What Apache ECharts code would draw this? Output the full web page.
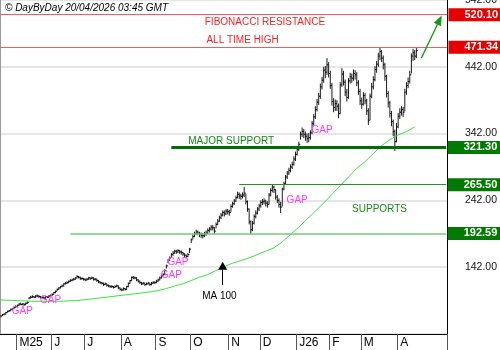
<!DOCTYPE html>
<html>
<head>
<meta charset="utf-8">
<script src="https://cdn.jsdelivr.net/npm/echarts@6/dist/echarts.min.js"></script>
<style>
  html, body { margin: 0; padding: 0; background: #fff; }
  #chart { width: 500px; height: 350px; }
</style>
</head>
<body>
<div id="chart"></div>
<script>
// ---- trading calendar ----
const firstSession = '2025-04-16';
const sessionCount = 270;            // includes empty sessions ahead of the last bar
const marketHolidays = ['2025-04-18', '2025-05-26', '2025-06-19', '2025-07-04', '2025-09-01',
  '2025-11-27', '2025-12-25', '2026-01-01', '2026-01-19', '2026-02-16', '2026-04-03'];
const monthLabels = ['M25', 'J', 'J', 'A', 'S', 'O', 'N', 'D', 'J26', 'F', 'M', 'A'];

// ---- daily price bars ----
const closes = [
  69, 71, 72, 74, 76, 77, 79, 80, 82, 83,
  85, 87, 86, 87, 86, 88, 89, 96, 97, 98,
  97, 99, 99, 98, 97, 97, 96, 98, 97, 99,
  100, 101, 104, 106, 109, 111, 113, 114, 117, 118,
  119, 121, 122, 123, 124, 126, 128, 127, 125, 125,
  124, 123, 124, 126, 125, 126, 124, 124, 122, 120,
  119, 118, 116, 117, 115, 114, 113, 113, 112, 113,
  114, 111, 109, 108, 110, 109, 113, 118, 122, 127,
  126, 126, 123, 121, 119, 117, 118, 116, 117, 118,
  116, 118, 119, 119, 121, 123, 126, 129, 131, 137,
  144, 152, 156, 161, 163, 166, 165, 167, 165, 164,
  162, 160, 158, 161, 169, 183, 188, 192, 195, 193,
  191, 190, 189, 192, 193, 197, 199, 202, 201, 196,
  206, 211, 216, 220, 224, 222, 226, 225, 224, 233,
  237, 241, 246, 251, 249, 248, 250, 253, 240, 229,
  210, 198, 208, 218, 223, 229, 234, 239, 240, 241,
  238, 236, 250, 257, 262, 258, 247, 242, 236, 232,
  259, 267, 277, 283, 287, 292, 296, 304, 311, 318,
  326, 341, 345, 341, 338, 335, 336, 343, 357, 367,
  378, 389, 398, 412, 422, 437, 434, 445, 432, 414,
  390, 381, 387, 383, 372, 415, 431, 419, 404, 396,
  421, 427, 425, 432, 430, 418, 405, 391, 386, 399,
  391, 376, 362, 398, 412, 423, 438, 446, 458, 465,
  455, 445, 428, 402, 388, 372, 360, 345, 330, 352,
  368, 374, 378, 374, 404, 414, 420, 430, 458, 463,
  458, 466
];
const lows = [
  67, 69, 70, 71, 74, 75, 76, 78, 79, 81,
  82, 84, 85, 85, 84, 85, 87, 94, 95, 96,
  96, 96, 97, 96, 95, 95, 94, 95, 96, 96,
  98, 99, 101, 103, 106, 108, 110, 112, 113, 116,
  117, 118, 120, 121, 122, 123, 125, 125, 123, 123,
  122, 121, 122, 123, 123, 124, 122, 122, 120, 118,
  117, 116, 114, 115, 113, 112, 111, 111, 110, 111,
  112, 109, 107, 106, 107, 107, 108, 112, 117, 121,
  124, 124, 121, 119, 117, 115, 116, 114, 115, 116,
  114, 115, 117, 117, 118, 120, 122, 125, 128, 130,
  140, 148, 152, 157, 159, 162, 162, 163, 162, 161,
  159, 157, 155, 157, 163, 178, 184, 187, 190, 190,
  187, 186, 185, 187, 189, 192, 194, 197, 197, 192,
  200, 205, 210, 214, 218, 218, 220, 221, 219, 225,
  231, 235, 240, 245, 244, 243, 245, 247, 236, 225,
  206, 191, 196, 206, 215, 221, 226, 231, 235, 236,
  233, 231, 236, 248, 254, 253, 243, 238, 231, 223,
  233, 257, 265, 274, 280, 284, 289, 294, 301, 309,
  316, 333, 337, 335, 331, 328, 329, 333, 341, 354,
  364, 375, 385, 394, 408, 418, 425, 430, 426, 409,
  384, 374, 376, 376, 365, 371, 412, 414, 398, 390,
  394, 417, 418, 421, 423, 413, 400, 385, 379, 384,
  386, 370, 355, 362, 395, 408, 420, 433, 442, 452,
  449, 438, 421, 396, 381, 366, 353, 338, 316, 329,
  350, 364, 369, 367, 375, 400, 410, 417, 432, 451,
  452, 455
];
const highs = [
  70, 72, 73, 75, 77, 78, 80, 81, 83, 85,
  86, 88, 89, 88, 88, 89, 91, 97, 99, 100,
  99, 100, 101, 100, 99, 98, 98, 99, 99, 100,
  101, 103, 105, 107, 110, 112, 114, 116, 118, 120,
  121, 122, 124, 125, 126, 127, 130, 129, 128, 127,
  126, 125, 126, 127, 127, 128, 127, 126, 125, 123,
  121, 120, 119, 119, 118, 116, 115, 115, 114, 115,
  116, 115, 112, 110, 112, 111, 114, 119, 123, 128,
  129, 128, 127, 124, 122, 120, 120, 119, 119, 120,
  119, 120, 121, 121, 123, 125, 128, 131, 133, 139,
  146, 154, 158, 163, 166, 168, 168, 169, 168, 167,
  165, 163, 161, 163, 171, 185, 191, 195, 198, 197,
  195, 194, 193, 195, 197, 200, 202, 205, 205, 202,
  209, 214, 219, 223, 227, 227, 229, 229, 228, 236,
  240, 244, 249, 255, 254, 252, 254, 262, 252, 242,
  230, 212, 211, 221, 227, 232, 237, 242, 244, 245,
  243, 241, 253, 260, 266, 264, 259, 250, 245, 240,
  261, 270, 280, 286, 291, 296, 300, 308, 315, 322,
  330, 345, 351, 349, 345, 342, 343, 347, 361, 371,
  383, 394, 403, 417, 427, 442, 443, 455, 449, 436,
  418, 395, 393, 392, 387, 419, 440, 436, 423, 409,
  425, 433, 432, 438, 437, 434, 422, 409, 396, 404,
  403, 394, 380, 402, 418, 428, 443, 451, 463, 471,
  467, 459, 448, 430, 406, 391, 376, 363, 348, 358,
  373, 380, 383, 382, 409, 419, 426, 436, 462, 469,
  467, 470
];

// 100-session moving average, one reading every 5 sessions
const maStep = 5;
const ma100 = [
  93, 92.5, 92, 91.5, 91, 91, 91, 91, 91.5, 92,
  93, 94.5, 96, 97.5, 99, 100.5, 102, 103.5, 105, 107,
  110, 114, 117, 122, 127, 131, 137, 143, 148, 152,
  156, 161, 166, 171, 180, 191, 202, 214, 226, 238,
  251, 264, 277, 290, 300, 312, 324, 333, 340, 345,
  352
];

// ---- key levels ----
const resistanceLevels = [520.10, 471.34];
const supportLevels = [321.30, 265.50, 192.59];
const supportStarts = ['2025-09-15', '2025-11-11', '2025-06-17'];

// ---- notes on the chart ----
const gapNotes = [
  ['2025-05-06', 75], ['2025-05-30', 92], ['2025-09-15', 129],
  ['2025-09-19', 148], ['2026-01-02', 242], ['2026-01-26', 346]
];
const textNotes = [
  { text: 'FIBONACCI RESISTANCE', at: ['2025-10-13', 508], color: '#ff2020', size: 10 },
  { text: 'ALL TIME HIGH', at: ['2025-10-14', 480.5], color: '#ff2020', size: 10 },
  { text: 'MAJOR SUPPORT', at: ['2025-09-29', 329.5], color: '#158a15', size: 10 },
  { text: 'SUPPORTS', at: ['2026-02-20', 228.5], color: '#158a15', size: 10 }
];
const maNote = { text: 'MA 100', at: ['2025-10-24', 98], arrowFrom: ['2025-10-28', 115.5], arrowTo: ['2025-10-28', 144] };
const targetArrow = { from: ['2026-04-22', 455], to: ['2026-05-07', 512] };

// ---- build the session list ----
function buildSessions(start, count, holidays) {
  const out = [];
  const d = new Date(start + 'T00:00:00Z');
  while (out.length < count) {
    const dow = d.getUTCDay();
    const iso = d.toISOString().slice(0, 10);
    if (dow !== 0 && dow !== 6 && holidays.indexOf(iso) < 0) out.push(iso);
    d.setUTCDate(d.getUTCDate() + 1);
  }
  return out;
}
const sessions = buildSessions(firstSession, sessionCount, marketHolidays);
const lastSession = sessions[sessions.length - 1];

// first session of each labelled month
const monthStarts = [];
for (let i = 1; i < sessions.length && monthStarts.length < monthLabels.length; i++) {
  if (sessions[i].slice(0, 7) !== sessions[i - 1].slice(0, 7)) monthStarts.push(i);
}
const isMonthStart = (idx) => monthStarts.indexOf(idx) >= 0;

const barData = closes.map((c, i) => [i, lows[i], highs[i], c]);
const maData = sessions.map((_, i) => (i % maStep === 0 && i / maStep < ma100.length) ? ma100[i / maStep] : null);

function renderBar(params, api) {
  const i = api.value(0);
  const top = api.coord([i, api.value(2)]);
  const bot = api.coord([i, api.value(1)]);
  const cl = api.coord([i, api.value(3)]);
  return {
    type: 'group',
    children: [
      { type: 'line', shape: { x1: top[0], y1: top[1], x2: bot[0], y2: bot[1] }, style: { stroke: '#1a1a1a', lineWidth: 1 } },
      { type: 'line', shape: { x1: cl[0], y1: cl[1], x2: cl[0] + 1.5, y2: cl[1] }, style: { stroke: '#000', lineWidth: 1 } }
    ]
  };
}

const boxLabel = (text, bg) => ({
  show: true, position: 'end', distance: 1.5, formatter: text,
  color: '#fff', backgroundColor: bg, fontFamily: 'Arial', fontWeight: 'bold', fontSize: 11,
  lineHeight: 12, padding: [1, 3, 0, 16]
});

const resistanceStyles = [
  { color: '#ee6060', width: 1 },
  { color: '#ee6060', width: 1 }
];
const supportStyles = [
  { color: '#006e00', width: 3 },
  { color: '#2e8b2e', width: 1 },
  { color: '#78c878', width: 1.5 }
];

const markLines = [];
resistanceLevels.forEach((v, k) => {
  markLines.push({
    yAxis: v, lineStyle: Object.assign({ type: 'solid' }, resistanceStyles[k]),
    label: boxLabel(v.toFixed(2), '#e60000')
  });
});
supportLevels.forEach((v, k) => {
  markLines.push([
    { coord: [supportStarts[k], v], lineStyle: Object.assign({ type: 'solid' }, supportStyles[k]), label: boxLabel(v.toFixed(2), '#007a00') },
    { coord: [lastSession, v] }
  ]);
});
markLines.push([
  { coord: maNote.arrowFrom, symbol: 'none', lineStyle: { color: '#000', width: 1, type: 'solid' }, label: { show: false } },
  { coord: maNote.arrowTo, symbol: 'triangle', symbolSize: [9, 8] }
]);
markLines.push([
  { coord: targetArrow.from, symbol: 'none', lineStyle: { color: '#129a12', width: 1.3, type: 'solid' }, label: { show: false } },
  { coord: targetArrow.to, symbol: 'triangle', symbolSize: [8, 10] }
]);

const hidden = { color: 'rgba(0,0,0,0)' };
const markPoints = [];
gapNotes.forEach(g => markPoints.push({
  coord: g, symbolSize: 1, itemStyle: hidden,
  label: { show: true, position: 'inside', formatter: 'GAP', color: '#ff3cff', fontFamily: 'Arial', fontSize: 10 }
}));
textNotes.forEach(t => markPoints.push({
  coord: t.at, symbolSize: 1, itemStyle: hidden,
  label: { show: true, position: 'right', distance: 0, formatter: t.text, color: t.color, fontFamily: 'Arial', fontSize: t.size }
}));
markPoints.push({
  coord: maNote.at, symbolSize: 1, itemStyle: hidden,
  label: { show: true, position: 'inside', formatter: maNote.text, color: '#000', fontFamily: 'Arial', fontSize: 10 }
});

const chart = echarts.init(document.getElementById('chart'), null, { renderer: 'canvas' });
chart.setOption({
  animation: false,
  backgroundColor: '#fff',
  title: {
    text: '\u00a9 DayByDay 20/04/2026 03:45 GMT', left: 5, top: 3, padding: 0,
    textStyle: { fontFamily: 'Arial', fontSize: 10, fontStyle: 'italic', fontWeight: 'normal', color: '#000' }
  },
  grid: { left: 0, right: 53, top: 0, bottom: 16, containLabel: false, outerBoundsMode: 'none' },
  xAxis: {
    type: 'category', data: sessions, boundaryGap: true,
    axisLine: { show: true, lineStyle: { color: '#000', width: 1 } },
    axisTick: { show: true, interval: (idx) => isMonthStart(idx), length: 16, lineStyle: { color: '#555' } },
    axisLabel: {
      show: true, interval: (idx) => isMonthStart(idx),
      formatter: (val, idx) => monthLabels[monthStarts.indexOf(idx)] || '',
      align: 'left', padding: [0, 0, 0, 2], margin: 3,
      fontFamily: 'Arial', fontSize: 12, color: '#000'
    },
    splitLine: { show: false }
  },
  yAxis: [
    {
      type: 'value', position: 'right', min: 42, max: 542, interval: 100,
      axisLine: { show: true, lineStyle: { color: '#000', width: 1 } },
      axisTick: { show: false },
      axisLabel: {
        margin: 50, align: 'right', fontFamily: 'Arial', fontSize: 10.5, color: '#111',
        formatter: (v) => v === 42 ? '' : v.toFixed(2)
      },
      splitLine: { show: true, lineStyle: { color: '#e6e6e6', width: 2 } }
    },
    {
      type: 'value', position: 'left', min: 42, max: 542, interval: 100,
      axisLine: { show: true, lineStyle: { color: '#999', width: 1 } },
      axisTick: { show: false }, axisLabel: { show: false }, splitLine: { show: false }
    }
  ],
  series: [
    {
      type: 'custom', name: 'price', renderItem: renderBar, data: barData,
      encode: { x: 0, y: [1, 2] }, silent: true, z: 2
    },
    {
      type: 'line', name: 'MA 100', data: maData, connectNulls: true, symbol: 'none',
      lineStyle: { color: '#3ee03e', width: 1 }, silent: true, z: 3,
      markLine: { silent: true, symbol: 'none', precision: 2, data: markLines },
      markPoint: { silent: true, data: markPoints }
    }
  ]
});
</script>
</body>
</html>
